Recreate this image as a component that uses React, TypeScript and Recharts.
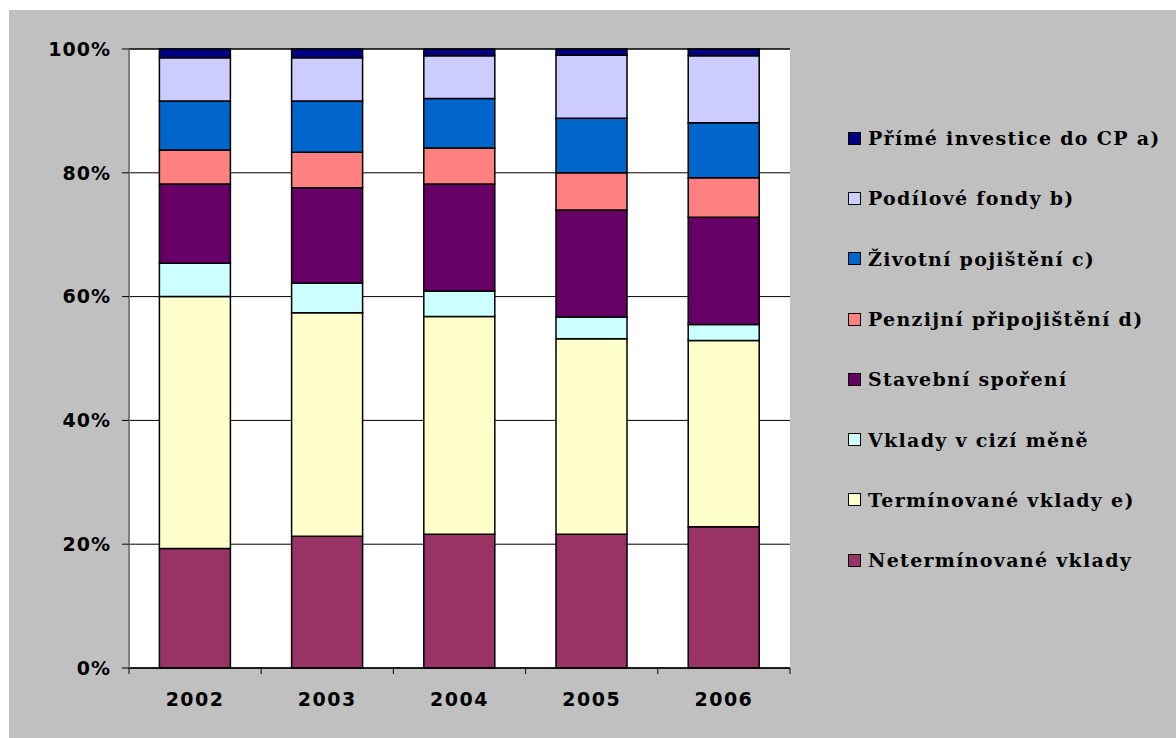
import React from "react";
import { BarChart, Bar, XAxis, YAxis, CartesianGrid, Legend } from "recharts";

const years = ["2002", "2003", "2004", "2005", "2006"];
// shares in %, bottom of the stack first
const netermVklady = [19.3, 21.3, 21.6, 21.6, 22.8];
const termVklady = [40.7, 36.1, 35.2, 31.6, 30.1];
const ciziMena = [5.4, 4.8, 4.1, 3.5, 2.6];
const stavebni = [12.8, 15.4, 17.3, 17.3, 17.3];
const penzijni = [5.5, 5.7, 5.8, 6.0, 6.4];
const zivotni = [7.9, 8.3, 8.0, 8.8, 8.9];
const podilove = [7.0, 7.0, 6.9, 10.2, 10.8];
const prime = [1.4, 1.4, 1.1, 1.0, 1.1];
const yTicks = [0, 20, 40, 60, 80, 100];

const series = [
  { key: "neterm", name: "Netermínované vklady", values: netermVklady, color: "#993366" },
  { key: "term", name: "Termínované vklady e)", values: termVklady, color: "#FFFFCC" },
  { key: "cizi", name: "Vklady v cizí měně", values: ciziMena, color: "#CCFFFF" },
  { key: "stav", name: "Stavební spoření", values: stavebni, color: "#660066" },
  { key: "penz", name: "Penzijní připojištění d)", values: penzijni, color: "#FF8080" },
  { key: "ziv", name: "Životní pojištění c)", values: zivotni, color: "#0066CC" },
  { key: "podil", name: "Podílové fondy b)", values: podilove, color: "#CCCCFF" },
  { key: "prime", name: "Přímé investice do CP a)", values: prime, color: "#000080" },
];

const data = years.map((year, i) => {
  const row: any = { year };
  series.forEach((s) => (row[s.key] = s.values[i]));
  return row;
});

const W = 1167;
const H = 728;
const MARGIN = { top: 39, right: 58, bottom: 0, left: 0 };
const Y_AXIS_W = 120;
const LEGEND_W = 328;
const PLOT_W = W - MARGIN.left - MARGIN.right - Y_AXIS_W - LEGEND_W;
const BAND = PLOT_W / years.length;

const axisFont = "'DejaVu Sans', Verdana, sans-serif";
const legendFont = "'DejaVu Serif', Georgia, serif";

// year label centred in the band, tick marks on the band edges
function YearTick({ x, y, payload, index }: any) {
  const left = x - BAND / 2;
  const right = x + BAND / 2;
  return (
    <g>
      <line x1={left} x2={left} y1={y} y2={y + 6} stroke="#000" />
      {index === years.length - 1 && <line x1={right} x2={right} y1={y} y2={y + 6} stroke="#000" />}
      <text
        x={x}
        y={y + 38}
        textAnchor="middle"
        fontFamily={axisFont}
        fontWeight={700}
        fontSize={19}
        letterSpacing={1.5}
        fill="#000"
      >
        {payload.value}
      </text>
    </g>
  );
}

function LegendList() {
  return (
    <div style={{ display: "flex", flexDirection: "column" }}>
      {[...series].reverse().map((s) => (
        <div key={s.key} style={{ height: 60.3, display: "flex", alignItems: "center" }}>
          <span
            style={{
              width: 11,
              height: 11,
              background: s.color,
              border: "1.5px solid #000",
              marginRight: 7,
              flexShrink: 0,
            }}
          />
          <span
            style={{
              fontFamily: legendFont,
              fontWeight: 700,
              fontSize: 19,
              letterSpacing: 1.3,
              color: "#000",
              whiteSpace: "nowrap",
            }}
          >
            {s.name}
          </span>
        </div>
      ))}
    </div>
  );
}

export default function App() {
  return (
    <div style={{ position: "absolute", left: 9, top: 10, width: W, height: H, background: "#C0C0C0" }}>
      <BarChart width={W} height={H} data={data} margin={MARGIN} barCategoryGap="23%">
        <CartesianGrid vertical={false} fill="#fff" stroke="#000" />
        <XAxis
          dataKey="year"
          height={70}
          tickLine={false}
          tickSize={0}
          tickMargin={0}
          axisLine={{ stroke: "#000", strokeWidth: 1.5 }}
          tick={<YearTick />}
        />
        <XAxis xAxisId="top" dataKey="year" orientation="top" height={0} tick={false} tickLine={false} axisLine={{ stroke: "#808080", strokeWidth: 2 }} />
        <YAxis
          width={Y_AXIS_W}
          domain={[0, 100]}
          ticks={yTicks}
          tickFormatter={(v) => `${v}%`}
          tickSize={7}
          tickMargin={11}
          tickLine={{ stroke: "#000" }}
          axisLine={{ stroke: "#808080", strokeWidth: 2 }}
          tick={{ fill: "#000", fontSize: 19, fontWeight: 700, fontFamily: axisFont, letterSpacing: 1 }}
        />
        <YAxis yAxisId="right" orientation="right" width={0} domain={[0, 100]} tick={false} tickLine={false} axisLine={{ stroke: "#808080", strokeWidth: 2 }} />
        {series.map((s) => (
          <Bar
            key={s.key}
            dataKey={s.key}
            name={s.name}
            stackId="a"
            fill={s.color}
            stroke="#000"
            strokeWidth={1.5}
            isAnimationActive={false}
          />
        ))}
        <Legend
          layout="vertical"
          align="right"
          verticalAlign="top"
          content={<LegendList />}
          wrapperStyle={{ left: 839, top: 98, width: LEGEND_W }}
        />
      </BarChart>
    </div>
  );
}
